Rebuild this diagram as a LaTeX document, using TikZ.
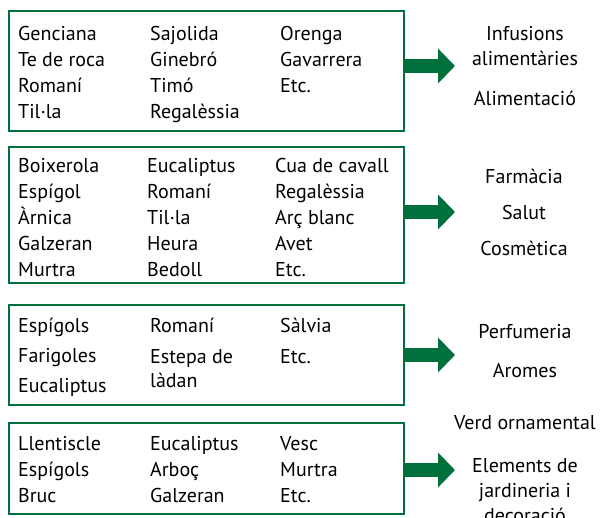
\documentclass[tikz,border=0pt]{standalone}
\usepackage{fontspec}
\setmainfont{PT Sans}
\usetikzlibrary{arrows.meta,positioning}
\definecolor{leafgreen}{RGB}{0,112,60}
\tikzset{
    plantbox/.style = {rectangle, draw=leafgreen, line width=2pt, anchor=north west, minimum width=395pt, inner sep=0pt},
    plantcol/.style = {anchor=north west, align=left, inner sep=0pt, font=\fontsize{20}{26}\selectfont},
    usetext/.style = {align=center, inner sep=0pt, font=\fontsize{20}{25}\selectfont},
    usearrow/.style = {draw=leafgreen, line width=14pt, -{Triangle[length=17pt,width=34pt]}}
}

\begin{document}
\begin{tikzpicture}[x=1pt, y=-1pt]
    \useasboundingbox (0,0) rectangle (602,518);

    % Boxes
    \node [plantbox, minimum height=120pt] (box1) at (8,10) {};
    \node [plantbox, minimum height=136pt] (box2) at (8,146) {};
    \node [plantbox, minimum height=100pt] (box3) at (8,304) {};
    \node [plantbox, minimum height=91pt] (box4) at (8,422) {};

    % Plants
    \node [plantcol] (c11) at (18,26) {Genciana\\Te de roca\\Romaní\\Til·la};
    \node [plantcol] (c12) at (150,26) {Sajolida\\Ginebró\\Timó\\Regalèssia};
    \node [plantcol] (c13) at (280,26) {Orenga\\Gavarrera\\Etc.};

    \node [plantcol] (c21) at (18,158) {Boixerola\\Espígol\\Àrnica\\Galzeran\\Murtra};
    \node [plantcol] (c22) at (147,158) {Eucaliptus\\Romaní\\Til·la\\Heura\\Bedoll};
    \node [plantcol] (c23) at (275,158) {Cua de cavall\\Regalèssia\\Arç blanc\\Avet\\Etc.};

    \node [plantcol] (c31) at (18,318) {Espígols\\[4pt]Farigoles\\[4pt]Eucaliptus};
    \node [plantcol] (c32) at (150,318) {Romaní\\[5pt]Estepa de\\[-2pt]làdan};
    \node [plantcol] (c33) at (280,318) {Sàlvia\\[5pt]Etc.};

    \node [plantcol] (c41) at (18,436) {Llentiscle\\Espígols\\Bruc};
    \node [plantcol] (c42) at (150,436) {Eucaliptus\\Arboç\\Galzeran};
    \node [plantcol] (c43) at (280,436) {Vesc\\Murtra\\Etc.};

    % Uses
    \node [usetext] (infus) at (525,46) {Infusions\\alimentàries};
    \node [usetext] (alim) at (525,98) {Alimentació};
    \node [usetext] (salut) at (524,212) {Farmàcia\\[11pt]Salut\\[11pt]Cosmètica};
    \node [usetext] (perfum) at (525,351) {Perfumeria\\[14pt]Aromes};
    \node [usetext] (verd) at (525,423) {Verd ornamental};
    \node [usetext, anchor=north] (jardi) at (525,458) {Elements de\\jardineria i\\decoració};

    % Arrows
    \coordinate (t1) at (455,66);
    \coordinate (t2) at (455,212);
    \coordinate (t3) at (455,355);
    \coordinate (t4) at (455,470);
    \draw [usearrow] (box1.east |- t1) -- (t1);
    \draw [usearrow] (box2.east |- t2) -- (t2);
    \draw [usearrow] (box3.east |- t3) -- (t3);
    \draw [usearrow] (box4.east |- t4) -- (t4);
\end{tikzpicture}
\end{document}
